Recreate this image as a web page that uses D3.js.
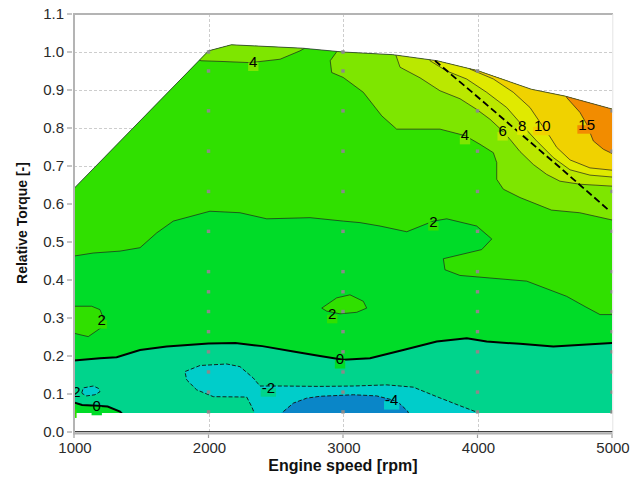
<!DOCTYPE html>
<html><head><meta charset="utf-8">
<script src="https://cdn.jsdelivr.net/npm/d3@7"></script>
<style>body{margin:0;background:#fff}svg{display:block}text{font-family:"Liberation Sans",Arial,sans-serif}</style>
</head><body>
<svg id="chart" width="642" height="477"></svg>
<script>
// ---------------- data ----------------
const xTicks = [1000, 2000, 3000, 4000, 5000];
const yTicks = [0, 0.1, 0.2, 0.3, 0.4, 0.5, 0.6, 0.7, 0.8, 0.9, 1.0, 1.1];
const xGrid = [2000, 3000, 4000];
const yGrid = [0.1, 0.2, 0.3, 0.4, 0.5, 0.6, 0.7, 0.8, 0.9, 1.0];

const levels = [-4, -2, 0, 2, 4, 6, 8, 10, 15];
const bandColors = ["#0a86c8", "#00cdca", "#00d48c", "#00dc28", "#30e000",
                    "#7ee600", "#bae800", "#e0ea00", "#f0d200", "#f28c00"];

// full-load envelope and lower limit
const envelopeRpm    = [1000, 2000, 2170, 2700, 3000, 3370, 3700, 4000, 4400, 4650, 5000];
const envelopeTorque = [0.641, 1.003, 1.019, 1.010, 1.000, 0.993, 0.977, 0.951, 0.902, 0.884, 0.850];
const minTorque = 0.05;

// measurement points
const pointRpm = [2000, 3000, 4000, 5000];
const pointTorque = [0.053, 0.105, 0.158, 0.211, 0.264, 0.317, 0.369, 0.422, 0.528, 0.633, 0.739, 0.845, 0.95, 1.0];

// contour lines [rpm, torque]
const cM4 = [[2540,0.04],[2544,0.05],[2631,0.076],[2730,0.089],[2829,0.094],[3077,0.098],[3250,0.095],[3362,0.085],[3424,0.074],[3480,0.055],[3500,0.04]];
const cM2Main = [[2352,0.04],[2321,0.067],[2284,0.092],[2036,0.093],[1912,0.111],[1838,0.137],[1825,0.159],[1937,0.175],[2135,0.179],[2234,0.172],[2333,0.142],[2383,0.121],[2556,0.121],[2829,0.120],[3077,0.121],[3325,0.124],[3523,0.118],[3697,0.093],[3870,0.069],[3982,0.054],[4010,0.04]];
const cM2Isle = [[1057,0.102],[1069,0.116],[1143,0.121],[1181,0.115],[1193,0.106],[1156,0.098],[1094,0.095],[1057,0.102]];
const c0Main = [[990,0.188],[1000,0.188],[1193,0.194],[1317,0.197],[1491,0.216],[1689,0.225],[2000,0.233],[2200,0.234],[2400,0.226],[2631,0.212],[2829,0.200],[3002,0.190],[3201,0.194],[3448,0.216],[3697,0.238],[3920,0.247],[4068,0.238],[4316,0.232],[4564,0.225],[4812,0.230],[5000,0.234],[5050,0.234]];
const c0Corner = [[980,0.080],[1000,0.078],[1060,0.071],[1169,0.069],[1250,0.067],[1342,0.054],[1365,0.045]];
const c2Main = [[990,0.463],[1000,0.463],[1143,0.471],[1342,0.476],[1491,0.485],[1615,0.524],[1738,0.555],[2011,0.581],[2234,0.577],[2433,0.561],[2755,0.564],[3002,0.555],[3126,0.551],[3275,0.542],[3474,0.527],[3672,0.555],[3771,0.561],[3994,0.542],[4106,0.508],[4031,0.480],[3746,0.456],[3758,0.427],[3870,0.412],[4366,0.397],[4663,0.357],[4800,0.330],[4911,0.309],[5000,0.309],[5050,0.309]];
const c2IsleA = [[950,0.331],[1000,0.331],[1131,0.331],[1193,0.322],[1218,0.300],[1200,0.274],[1106,0.251],[1045,0.256],[1000,0.260],[950,0.260]];
const c2IsleB = [[2842,0.326],[2953,0.353],[3052,0.361],[3151,0.344],[3176,0.326],[3102,0.315],[2978,0.311],[2879,0.318],[2842,0.326]];
const c4Top = [[1900,0.985],[1944,0.977],[2108,0.975],[2309,0.972],[2532,0.981],[2680,1.003],[2730,1.013],[2745,1.04]];
const c4Main = [[2955,1.06],[2950,0.999],[2905,0.977],[2916,0.946],[3002,0.933],[3151,0.894],[3288,0.832],[3399,0.797],[3573,0.797],[3721,0.797],[3907,0.780],[4019,0.757],[4118,0.735],[4143,0.709],[4143,0.665],[4192,0.639],[4316,0.617],[4550,0.584],[4760,0.577],[5000,0.558],[5050,0.556]];
const c6 = [[3385,1.06],[3395,0.990],[3424,0.960],[3573,0.932],[3721,0.898],[3870,0.877],[3994,0.849],[4093,0.823],[4187,0.792],[4242,0.770],[4316,0.738],[4415,0.704],[4514,0.678],[4613,0.660],[4762,0.652],[5000,0.647],[5050,0.647]];
const c8 = [[3640,1.06],[3647,0.977],[3771,0.950],[3919,0.929],[4068,0.894],[4217,0.854],[4333,0.807],[4440,0.766],[4564,0.722],[4688,0.690],[4836,0.676],[5000,0.671],[5050,0.671]];
const c10 = [[3935,1.06],[3944,0.955],[4118,0.929],[4266,0.894],[4390,0.854],[4482,0.806],[4539,0.777],[4589,0.749],[4688,0.716],[4836,0.695],[5000,0.689],[5050,0.689]];
const c15 = [[4655,1.0],[4663,0.880],[4762,0.841],[4812,0.810],[4861,0.766],[4936,0.744],[5000,0.733],[5050,0.733]];

// dashed limit line
const limitRpm = [3684, 3944, 4613, 4985];
const limitTorque = [0.977, 0.899, 0.696, 0.581];

// contour labels
const labelText = ["4", "4", "6", "8", "10", "15", "2", "2", "2", "0", "0", "-2", "-4", "-2", "2"];
const labelRpm  = [2333, 3907, 4187, 4333, 4482, 4812, 3672, 1206, 2920, 2978, 1169, 2445, 3362, 1000, 981];
const labelTq   = [0.975, 0.782, 0.792, 0.807, 0.806, 0.810, 0.555, 0.297, 0.311, 0.192, 0.069, 0.118, 0.084, 0.106, 0.062];

// ---------------- drawing ----------------
const svg = d3.select("#chart");
const x = d3.scaleLinear().domain([1000, 5000]).range([74, 612]);
const y = d3.scaleLinear().domain([0, 1.1]).range([432, 14]);
const line = d3.line().x(d => x(d[0])).y(d => y(d[1]));
const bandAbove = L => bandColors[levels.indexOf(L) + 1];
const bandBelow = L => bandColors[levels.indexOf(L)];

const envTop = envelopeRpm.map((r, i) => [r, envelopeTorque[i]]);
const envPoly = envTop.concat([[5000, minTorque], [1000, minTorque]]);

const defs = svg.append("defs");
defs.append("clipPath").attr("id", "envClip").append("path").attr("d", line(envPoly) + "Z");
defs.append("clipPath").attr("id", "plotClip").append("rect")
  .attr("x", x(1000)).attr("y", y(1.1)).attr("width", x(5000) - x(1000) + 0.6).attr("height", y(0) - y(1.1) + 2);

// grid
const grid = svg.append("g").attr("stroke", "#cdcdcd").attr("stroke-width", 1).attr("stroke-dasharray", "3,2");
grid.selectAll("line.h").data(yGrid).join("line").attr("class", "h")
  .attr("x1", x(1000)).attr("x2", x(5000)).attr("y1", d => Math.round(y(d)) + 0.5).attr("y2", d => Math.round(y(d)) + 0.5);
grid.selectAll("line.v").data(xGrid).join("line").attr("class", "v")
  .attr("y1", y(1.1)).attr("y2", y(0)).attr("x1", d => Math.round(x(d)) + 0.5).attr("x2", d => Math.round(x(d)) + 0.5);

// filled contours
const fills = svg.append("g").attr("clip-path", "url(#envClip)");
fills.append("path").attr("d", line(envPoly) + "Z").attr("fill", bandColors[2]);
const regions = [
  {pts: cM2Main, close: [], color: bandBelow(-2)},
  {pts: cM2Isle, close: [], color: bandBelow(-2)},
  {pts: cM4, close: [], color: bandBelow(-4)},
  {pts: c0Main, close: [[5050, 1.2], [990, 1.2]], color: bandAbove(0)},
  {pts: c0Corner, close: [[1365, 0.0], [980, 0.0]], color: bandAbove(0)},
  {pts: c2Main, close: [[5050, 1.2], [990, 1.2]], color: bandAbove(2)},
  {pts: c2IsleA, close: [], color: bandAbove(2)},
  {pts: c2IsleB, close: [], color: bandAbove(2)},
  {pts: c4Top, close: [[2745, 1.2], [1900, 1.2]], color: bandAbove(4)},
  {pts: c4Main, close: [[5050, 1.2], [2955, 1.2]], color: bandAbove(4)},
  {pts: c6, close: [[5050, 1.2], [3385, 1.2]], color: bandAbove(6)},
  {pts: c8, close: [[5050, 1.2], [3640, 1.2]], color: bandAbove(8)},
  {pts: c10, close: [[5050, 1.2], [3935, 1.2]], color: bandAbove(10)},
  {pts: c15, close: [[5050, 1.2], [4655, 1.2]], color: bandAbove(15)}
];
fills.selectAll("path.region").data(regions).join("path").attr("class", "region")
  .attr("d", d => line(d.pts.concat(d.close)) + "Z").attr("fill", d => d.color);

// contour lines
const strokes = svg.append("g").attr("clip-path", "url(#envClip)").attr("fill", "none");
const thin = [c2Main, c2IsleA, c2IsleB, c4Top, c4Main, c6, c8, c10, c15];
strokes.selectAll("path.pos").data(thin).join("path").attr("class", "pos")
  .attr("d", d => line(d)).attr("stroke", "#1e1e1e").attr("stroke-width", 0.8).attr("stroke-opacity", 0.85);
strokes.selectAll("path.neg").data([cM2Main, cM2Isle, cM4]).join("path").attr("class", "neg")
  .attr("d", d => line(d)).attr("stroke", "#111").attr("stroke-width", 0.9).attr("stroke-dasharray", "4,2");
strokes.selectAll("path.zero").data([c0Main, c0Corner]).join("path").attr("class", "zero")
  .attr("d", d => line(d)).attr("stroke", "#000").attr("stroke-width", 2);

// envelope outline
svg.append("path").attr("d", line(envTop)).attr("fill", "none").attr("stroke", "#333").attr("stroke-width", 0.8);

// dashed limit line
svg.append("path").attr("d", line(limitRpm.map((r, i) => [r, limitTorque[i]])))
  .attr("fill", "none").attr("stroke", "#000").attr("stroke-width", 1.8).attr("stroke-dasharray", "7,3.5");

// measurement points
const envAt = r => d3.scaleLinear().domain(envelopeRpm).range(envelopeTorque)(r);
const pts = [];
pointRpm.forEach(r => pointTorque.forEach(t => { if (t <= envAt(r) + 0.006) pts.push([r, t]); }));
svg.append("g").attr("clip-path", "url(#plotClip)").selectAll("rect").data(pts).join("rect")
  .attr("x", d => x(d[0]) - 1.7).attr("y", d => y(d[1]) - 1.7).attr("width", 3.4).attr("height", 3.4).attr("fill", "#8a8a8a");

// labels
const lg = svg.append("g").attr("clip-path", "url(#plotClip)");
labelText.forEach((t, i) => {
  const cx = x(labelRpm[i]), cy = y(labelTq[i]);
  const g = lg.append("g");
  const rect = g.append("rect");
  const txt = g.append("text").attr("x", cx).attr("y", cy + 5.4).attr("text-anchor", "middle")
    .attr("font-size", 15).attr("fill", "#000").text(t);
  const w = txt.node().getComputedTextLength();
  rect.attr("x", cx - w / 2 - 1).attr("y", cy + 1).attr("width", w + 2).attr("height", 8.5)
    .attr("fill", bandAbove(+t));
});

// zero torque line and axes
svg.append("line").attr("x1", x(1000)).attr("x2", x(5000) + 1).attr("y1", y(0) - 0.2).attr("y2", y(0) - 0.2)
  .attr("stroke", "#000").attr("stroke-width", 1.1);
svg.append("line").attr("x1", x(1000) - 1).attr("x2", x(5000) + 1).attr("y1", y(0) + 1.8).attr("y2", y(0) + 1.8)
  .attr("stroke", "#b0b0b0").attr("stroke-width", 1.5);
svg.append("line").attr("x1", x(1000)).attr("x2", x(1000)).attr("y1", y(1.1) - 1).attr("y2", y(0) + 2.5)
  .attr("stroke", "#b4b4b4").attr("stroke-width", 2);
svg.append("line").attr("x1", x(1000) - 1).attr("x2", x(5000) + 1).attr("y1", y(1.1)).attr("y2", y(1.1))
  .attr("stroke", "#b4b4b4").attr("stroke-width", 2);
svg.append("line").attr("x1", x(5000) + 0.8).attr("x2", x(5000) + 0.8).attr("y1", y(1.1)).attr("y2", y(0) + 2)
  .attr("stroke", "#e4e4e4").attr("stroke-width", 1);

// y ticks
const yAx = svg.append("g");
yAx.selectAll("line").data(yTicks).join("line")
  .attr("x1", 67).attr("x2", 72).attr("y1", d => y(d)).attr("y2", d => y(d)).attr("stroke", "#a0a0a0").attr("stroke-width", 1.2);
yAx.selectAll("text").data(yTicks).join("text")
  .attr("x", 64).attr("y", d => y(d) + 5.4).attr("text-anchor", "end").attr("font-size", 15).attr("fill", "#2a2a2a")
  .text(d3.format(".1f"));

// x ticks
const xAx = svg.append("g");
xAx.selectAll("line").data(xTicks).join("line")
  .attr("x1", d => x(d)).attr("x2", d => x(d)).attr("y1", y(0) + 2.5).attr("y2", y(0) + 6).attr("stroke", "#a0a0a0").attr("stroke-width", 1.2);
xAx.selectAll("text").data(xTicks).join("text")
  .attr("x", d => x(d) + 1).attr("y", 453).attr("text-anchor", "middle").attr("font-size", 15).attr("fill", "#2a2a2a")
  .text(d => d);

// titles
svg.append("text").attr("x", (x(1000) + x(5000)) / 2).attr("y", 471).attr("text-anchor", "middle")
  .attr("font-size", 16).attr("font-weight", "bold").attr("fill", "#111").text("Engine speed [rpm]");
svg.append("text").attr("transform", `translate(27,${(y(0) + y(1.1)) / 2}) rotate(-90)`).attr("text-anchor", "middle")
  .attr("font-size", 14).attr("font-weight", "bold").attr("fill", "#111").text("Relative Torque [-]");
</script>
</body></html>
